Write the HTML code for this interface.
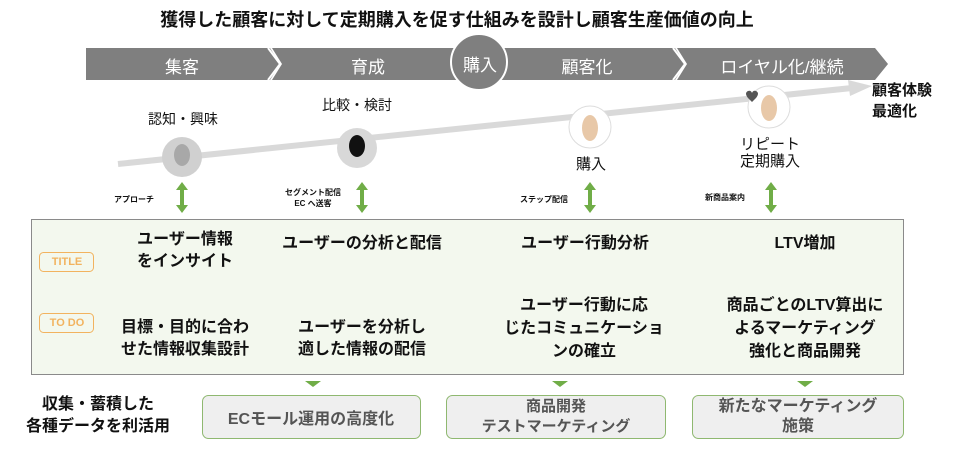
<!DOCTYPE html>
<html><head><meta charset="utf-8"><style>
body{margin:0;width:960px;height:450px;background:#fff;position:relative;overflow:hidden;font-family:"Liberation Sans","Noto Sans CJK JP",sans-serif;color:#111}
.a{position:absolute;white-space:nowrap}
.c{text-align:center;transform:translateX(-50%)}
.b{font-weight:bold}
</style></head><body>
<svg width="960" height="450" style="position:absolute;left:0;top:0">
<polygon points="86,48 270,48 280,64 270,80 86,80" fill="#7f7f7f"/>
<polygon points="272,48 675,48 685,64 675,80 272,80 282,64" fill="#7f7f7f"/>
<polygon points="677,48 875,48 888,64 875,80 677,80 687,64" fill="#7f7f7f"/>
<polyline points="268,48 280,64 268,80" fill="none" stroke="#fff" stroke-width="2"/>
<polyline points="673,48 685,64 673,80" fill="none" stroke="#fff" stroke-width="2"/>
<circle cx="479" cy="62" r="28" fill="#7f7f7f" stroke="#fff" stroke-width="2"/>
<line x1="118" y1="164" x2="852" y2="88" stroke="#d9d9d9" stroke-width="6"/>
<polygon points="848,80 872,86 850,96" fill="#d9d9d9"/>
<circle cx="182" cy="157" r="20" fill="#d0d0d0"/>
<ellipse cx="182" cy="155" rx="8" ry="11" fill="#a8a8a8"/>
<circle cx="357" cy="148" r="20" fill="#d8d8d8"/>
<ellipse cx="357" cy="146" rx="8" ry="11" fill="#111"/>
<circle cx="590" cy="127" r="21" fill="#fff" stroke="#ddd"/>
<ellipse cx="590" cy="128" rx="8" ry="13" fill="#e8c8a8"/>
<circle cx="769" cy="107" r="21" fill="#fff" stroke="#ddd"/>
<ellipse cx="769" cy="108" rx="8" ry="13" fill="#e8c8a8"/>
<path d="M748 98 q-4 -5 0 -7 q3 -1 4 2 q1 -3 4 -2 q4 2 0 7 l-4 4z" fill="#555"/>
<g fill="#70ad47">
<polygon points="182,182 188,190 176,190"/><rect x="180" y="189" width="4" height="16"/><polygon points="182,213 188,205 176,205"/>
<polygon points="362,182 368,190 356,190"/><rect x="360" y="189" width="4" height="16"/><polygon points="362,213 368,205 356,205"/>
<polygon points="590,182 596,190 584,190"/><rect x="588" y="189" width="4" height="16"/><polygon points="590,213 596,205 584,205"/>
<polygon points="771,182 777,190 765,190"/><rect x="769" y="189" width="4" height="16"/><polygon points="771,213 777,205 765,205"/>
<polygon points="305,381 321,381 313,387"/><polygon points="552,381 568,381 560,387"/><polygon points="797,381 813,381 805,387"/>
</g>
<rect x="31.5" y="219.5" width="872" height="155" fill="#f3f8ee" stroke="#8a8a8a"/>
<rect x="39.5" y="252.5" width="54" height="19" rx="4" fill="none" stroke="#f2b35f"/>
<rect x="39.5" y="313.5" width="54" height="19" rx="4" fill="none" stroke="#f2b35f"/>
<rect x="202.5" y="395.5" width="218" height="43" rx="6" fill="#efefef" stroke="#8fb870"/>
<rect x="446.5" y="395.5" width="219" height="43" rx="6" fill="#efefef" stroke="#8fb870"/>
<rect x="692.5" y="395.5" width="211" height="43" rx="6" fill="#efefef" stroke="#8fb870"/>
</svg>
<div class="a c b" style="left:457px;top:6px;font-size:18px">獲得した顧客に対して定期購入を促す仕組みを設計し顧客生産価値の向上</div>
<div class="a c" style="left:182px;top:53px;font-size:17px;color:#fff">集客</div>
<div class="a c" style="left:368px;top:53px;font-size:17px;color:#fff">育成</div>
<div class="a c" style="left:480px;top:51px;font-size:17px;color:#fff">購入</div>
<div class="a c" style="left:587px;top:53px;font-size:17px;color:#fff">顧客化</div>
<div class="a c" style="left:782px;top:53px;font-size:17px;color:#fff">ロイヤル化/継続</div>
<div class="a c" style="left:183px;top:109px;font-size:14px">認知・興味</div>
<div class="a c" style="left:357px;top:95px;font-size:14px">比較・検討</div>
<div class="a c" style="left:591px;top:153px;font-size:15px">購入</div>
<div class="a c" style="left:770px;top:136px;font-size:15px;line-height:17px;text-align:center">リピート<br>定期購入</div>
<div class="a b" style="left:872px;top:80px;font-size:15px;line-height:21px">顧客体験<br>最適化</div>
<div class="a b" style="left:114px;top:194px;font-size:8px">アプローチ</div>
<div class="a b c" style="left:313px;top:187px;font-size:8px;line-height:11px;text-align:center">セグメント配信<br>EC へ送客</div>
<div class="a b" style="left:520px;top:194px;font-size:8px">ステップ配信</div>
<div class="a b" style="left:705px;top:192px;font-size:8px">新商品案内</div>
<div class="a" style="left:40px;top:253px;width:54px;line-height:19px;text-align:center;font-size:11px;color:#f2b35f;font-weight:bold">TITLE</div>
<div class="a" style="left:40px;top:314px;width:54px;line-height:19px;text-align:center;font-size:11px;color:#f2b35f;font-weight:bold">TO DO</div>
<div class="a c b" style="left:185px;top:229px;font-size:16px;line-height:22px;text-align:center">ユーザー情報<br>をインサイト</div>
<div class="a c b" style="left:362px;top:229px;font-size:16px">ユーザーの分析と配信</div>
<div class="a c b" style="left:585px;top:229px;font-size:16px">ユーザー行動分析</div>
<div class="a c b" style="left:805px;top:229px;font-size:16px">LTV増加</div>
<div class="a c b" style="left:185px;top:317px;font-size:16px;line-height:22px;text-align:center">目標・目的に合わ<br>せた情報収集設計</div>
<div class="a c b" style="left:362px;top:317px;font-size:16px;line-height:22px;text-align:center">ユーザーを分析し<br>適した情報の配信</div>
<div class="a c b" style="left:584px;top:294px;font-size:16px;line-height:23px;text-align:center">ユーザー行動に応<br>じたコミュニケーショ<br>ンの確立</div>
<div class="a c b" style="left:805px;top:294px;font-size:16px;line-height:23px;text-align:center">商品ごとのLTV算出に<br>よるマーケティング<br>強化と商品開発</div>
<div class="a c b" style="left:98px;top:394px;font-size:16px;line-height:22px;text-align:center">収集・蓄積した<br>各種データを利活用</div>
<div class="a c b" style="left:311px;top:405px;font-size:16px;color:#555">ECモール運用の高度化</div>
<div class="a c b" style="left:556px;top:397px;font-size:15px;line-height:20px;color:#555;text-align:center">商品開発<br>テストマーケティング</div>
<div class="a c b" style="left:798px;top:397px;font-size:16px;line-height:20px;color:#555;text-align:center">新たなマーケティング<br>施策</div>
</body></html>
